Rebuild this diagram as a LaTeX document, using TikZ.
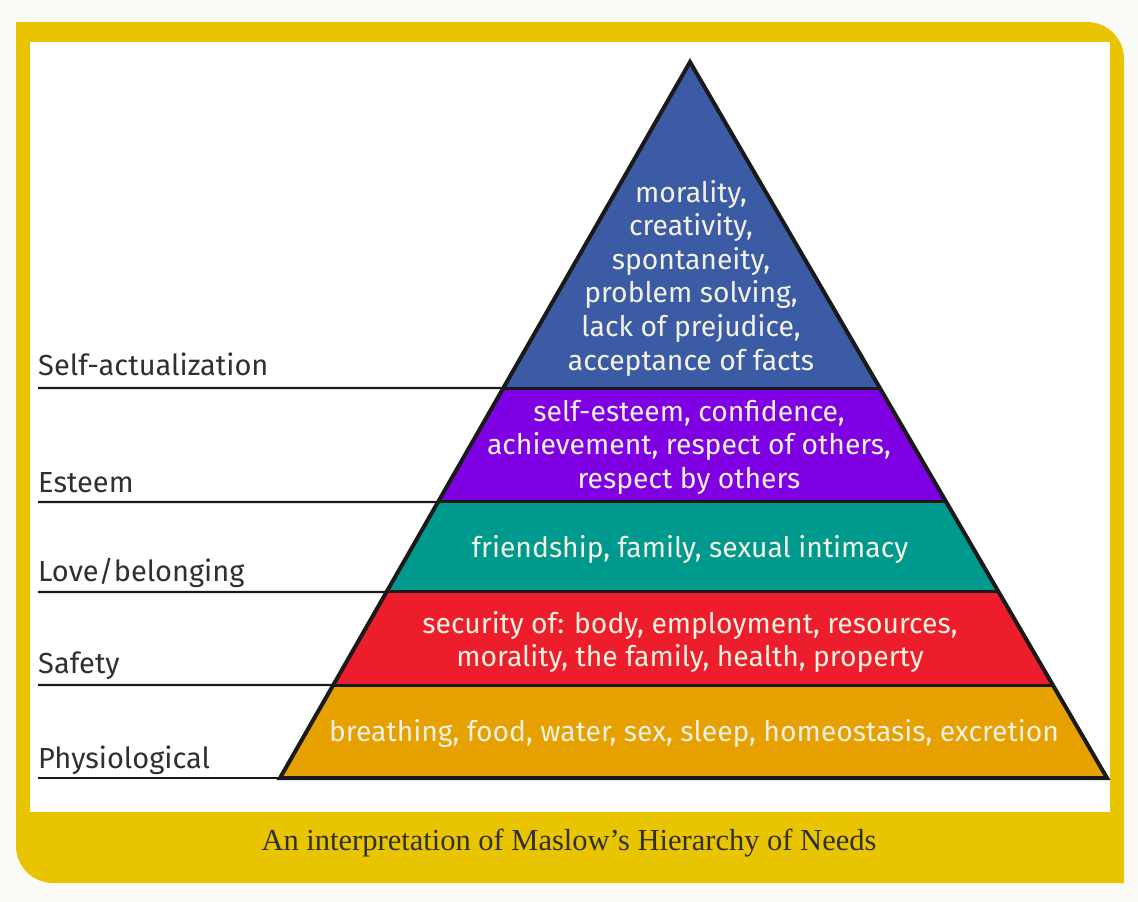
\documentclass[tikz,border=0pt]{standalone}
\usepackage{fontspec}
\setmainfont{Liberation Serif}
\newfontfamily\dinfont{Fira Sans}
\usetikzlibrary{calc}
\definecolor{bgc}{HTML}{FAFAF6}
\definecolor{framey}{HTML}{E9C400}
\definecolor{lblue}{HTML}{3B5BA5}
\definecolor{lpurple}{HTML}{7F00E3}
\definecolor{lteal}{HTML}{00998E}
\definecolor{lred}{HTML}{EE1D2B}
\definecolor{lorange}{HTML}{E6A000}
\definecolor{ptxt}{HTML}{F3F1E2}
\definecolor{ltxt}{HTML}{303030}
\definecolor{edge}{HTML}{1A1A1A}
\tikzset{
  ptext/.style={text=ptxt, align=center, inner sep=0pt, font=\dinfont\fontsize{28.3}{33.6}\selectfont},
  lbl/.style={text=ltxt, anchor=base west, inner sep=0pt, font=\dinfont\fontsize{29}{30}\selectfont},
  lvline/.style={draw=edge, line width=2.4pt},
  sepline/.style={draw=edge, line width=3pt},
  outline/.style={draw=edge, line width=4pt, line join=miter},
}
\begin{document}
\begin{tikzpicture}[x=1pt,y=-1pt]
\useasboundingbox (0,0) rectangle (1138,902);
\fill[bgc] (0,0) rectangle (1138,902);
% frame
\fill[framey] (16,22) -- (1087,22) .. controls (1107.4,22) and (1124,38.6) .. (1124,59)
  -- (1124,883) -- (53,883) .. controls (32.6,883) and (16,866.4) .. (16,846) -- cycle;
\fill[white] (30,42) rectangle (1110,812);
% pyramid geometry
\coordinate (apex) at (690,62);
\coordinate (bl) at (280,778);
\coordinate (br) at (1107,778);
\coordinate (l1) at ($(apex)!0.4553!(bl)$);
\coordinate (r1) at ($(apex)!0.4553!(br)$);
\coordinate (l2) at ($(apex)!0.6145!(bl)$);
\coordinate (r2) at ($(apex)!0.6145!(br)$);
\coordinate (l3) at ($(apex)!0.7402!(bl)$);
\coordinate (r3) at ($(apex)!0.7402!(br)$);
\coordinate (l4) at ($(apex)!0.8701!(bl)$);
\coordinate (r4) at ($(apex)!0.8701!(br)$);
\fill[lblue] (apex) -- (r1) -- (l1) -- cycle;
\fill[lpurple] (l1) -- (r1) -- (r2) -- (l2) -- cycle;
\fill[lteal] (l2) -- (r2) -- (r3) -- (l3) -- cycle;
\fill[lred] (l3) -- (r3) -- (r4) -- (l4) -- cycle;
\fill[lorange] (l4) -- (r4) -- (br) -- (bl) -- cycle;
% left label lines
\coordinate (s1) at (38,388);
\coordinate (s2) at (38,502);
\coordinate (s3) at (38,592);
\coordinate (s4) at (38,685);
\coordinate (s5) at (38,778);
\draw[lvline] (s1) -- (l1);
\draw[lvline] (s2) -- (l2);
\draw[lvline] (s3) -- (l3);
\draw[lvline] (s4) -- (l4);
\draw[lvline] (s5) -- (bl);
\draw[sepline] (l1) -- (r1);
\draw[sepline] (l2) -- (r2);
\draw[sepline] (l3) -- (r3);
\draw[sepline] (l4) -- (r4);
\draw[outline] (apex) -- (br) -- (bl) -- cycle;
% texts in pyramid
\node[ptext] (tself) at (691,278) {morality,\\creativity,\\spontaneity,\\problem solving,\\lack of prejudice,\\acceptance of facts};
\node[ptext] (testeem) at (689,447) {self-esteem, confidence,\\achievement, respect of others,\\respect by others};
\node[ptext] (tlove) at (690,549) {friendship, family, sexual intimacy};
\node[ptext] (tsafety) at (690,642) {security of: body, employment, resources,\\morality, the family, health, property};
\node[ptext] (tphys) at (694,733) {breathing, food, water, sex, sleep, homeostasis, excretion};
% labels
\node[lbl] (nself) at (38,375) {Self-actualization};
\node[lbl] (nesteem) at (38,492) {Esteem};
\node[lbl] (nlove) at (38,581) {Love/belonging};
\node[lbl] (nsafety) at (38,673) {Safety};
\node[lbl] (nphys) at (38,768) {Physiological};
% caption
\node[text=ltxt, font=\fontsize{30.5}{32}\selectfont, inner sep=0pt] (cap) at (569,843) {An interpretation of Maslow’s Hierarchy of Needs};
\end{tikzpicture}
\end{document}
